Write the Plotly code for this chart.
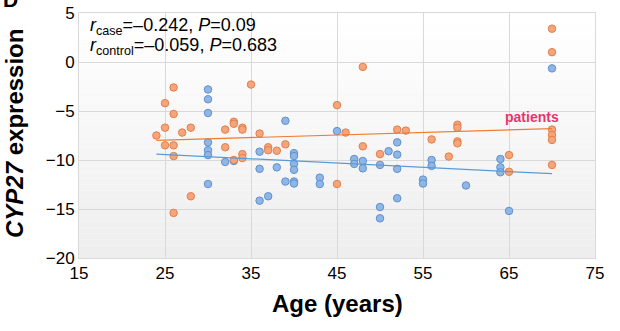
import plotly.graph_objects as go

# ---- data ----
case_age = [24, 25, 25, 25, 26, 26, 26, 26, 26, 27, 28, 28, 32, 32, 33, 33, 33,
            34, 34, 34, 34, 35, 36, 37, 37, 38, 39, 45, 45, 46, 48, 48, 50, 52,
            53, 56, 58, 59, 59, 59, 59, 65, 65, 70, 70, 70, 70, 70, 70]
case_expr = [-7.5, -4.2, -6.7, -8.5, -2.6, -5.3, -8.5, -9.6, -15.4, -7.2, -6.7, -13.7,
             -6.9, -8.7, -6.1, -6.3, -10.0, -6.7, -6.9, -9.4, -9.8, -2.3, -7.3, -8.7,
             -9.0, -9.05, -8.4, -4.4, -12.45, -7.2, -0.5, -8.6, -9.4, -6.9, -7.0,
             -7.9, -9.65, -6.4, -6.7, -8.1, -8.3, -9.5, -11.2, 3.4, 1.0, -6.9, -7.45,
             -7.95, -10.5]

ctrl_age = [30, 30, 30, 30, 30, 30, 30, 32, 33, 36, 36, 36, 37, 38, 39, 39,
            40, 40, 40, 40, 40, 40, 43, 43, 45, 47, 47, 48, 48, 50, 50, 50, 51,
            52, 52, 52, 52, 55, 55, 56, 56, 60, 64, 64, 64, 65, 70]
ctrl_expr = [-2.8, -3.8, -5.2, -8.2, -9.0, -9.5, -12.45, -10.2, -10.1, -9.15, -10.9,
             -14.15, -13.7, -10.75, -6.0, -12.2, -9.3, -9.6, -10.4, -11.0, -12.2,
             -12.4, -11.8, -12.45, -7.05, -9.9, -10.4, -10.1, -10.85, -10.5, -14.8,
             -15.95, -9.1, -8.2, -9.45, -10.9, -13.9, -12.0, -12.4, -10.0, -10.6,
             -12.6, -9.9, -10.75, -11.25, -15.2, -0.65]

trend_age = [24, 70]
trend_case = [-8.0, -6.8]
trend_ctrl = [-9.4, -11.4]

x_ticks = [15, 25, 35, 45, 55, 65, 75]
y_ticks = [5, 0, -5, -10, -15, -20]

stats_case = "<i>r</i><sub>case</sub>=\u20130.242, <i>P</i>=0.09"
stats_ctrl = "<i>r</i><sub>control</sub>=\u20130.059, <i>P</i>=0.683"

FONT = "Liberation Sans, Arial, sans-serif"

fig = go.Figure()

fig.add_trace(go.Scatter(
    x=ctrl_age, y=ctrl_expr, mode="markers", name="controls",
    marker=dict(size=7.5, color="#8fb6e4", line=dict(color="#5e91d0", width=1)),
))
fig.add_trace(go.Scatter(
    x=case_age, y=case_expr, mode="markers", name="patients",
    marker=dict(size=7.5, color="#f6a47a", line=dict(color="#e0804c", width=1)),
))
fig.add_trace(go.Scatter(
    x=trend_age, y=trend_ctrl, mode="lines",
    line=dict(color="#5b9bd5", width=1.2),
))
fig.add_trace(go.Scatter(
    x=trend_age, y=trend_case, mode="lines",
    line=dict(color="#ed7d31", width=1.2),
))

# gradient background (white at top -> light grey at bottom)
shapes = []
n = 40
for i in range(n):
    t = i / (n - 1)
    g = int(round(255 - 17 * t))
    shapes.append(dict(
        type="rect", xref="x domain", yref="y domain",
        x0=0, x1=1, y0=1 - (i + 1) / n, y1=1 - i / n,
        fillcolor=f"rgb({g},{g},{g})", line=dict(width=0), layer="below",
    ))

fig.update_layout(
    width=620, height=331,
    margin=dict(l=79, r=25, t=13, b=73, autoexpand=False),
    paper_bgcolor="white", plot_bgcolor="rgba(0,0,0,0)",
    showlegend=False,
    font=dict(family=FONT, size=17, color="black"),
    shapes=shapes,
)

fig.update_xaxes(
    range=[15, 75], tickvals=x_ticks, ticktext=[str(v) for v in x_ticks],
    showgrid=True, gridcolor="#d9d9d9", gridwidth=1,
    showline=True, linecolor="#d9d9d9", mirror=True, zeroline=False,
    ticks="", tickfont=dict(size=17), automargin=False,
)
fig.update_yaxes(
    range=[-20, 5], tickvals=y_ticks,
    showgrid=True, gridcolor="#d9d9d9", gridwidth=1,
    showline=True, linecolor="#d9d9d9", mirror=True, zeroline=False,
    ticks="", tickfont=dict(size=17), automargin=False,
)

ann = [
    dict(text=stats_case, xref="paper", yref="paper", x=0.018, y=1.0,
         xanchor="left", yanchor="top", showarrow=False, font=dict(size=18)),
    dict(text=stats_ctrl, xref="paper", yref="paper", x=0.018, y=0.918,
         xanchor="left", yanchor="top", showarrow=False, font=dict(size=18)),
    dict(text="<b>patients</b>", xref="x", yref="y", x=67.7, y=-5.6,
         xanchor="center", yanchor="middle", showarrow=False,
         font=dict(size=14, color="#e8336e")),
    dict(text="<b>Age (years)</b>", xref="paper", yref="paper", x=0.5, y=-0.184,
         xanchor="center", yanchor="middle", showarrow=False, font=dict(size=24)),
    dict(text="<b><i>CYP27</i> expression</b>", xref="paper", yref="paper",
         x=-0.126, y=0.51, xanchor="center", yanchor="middle", textangle=-90,
         showarrow=False, font=dict(size=24)),
    dict(text="<b>D</b>", xref="paper", yref="paper", x=-0.152, y=1.0,
         xanchor="left", yanchor="bottom", showarrow=False, font=dict(size=21)),
]
fig.update_layout(annotations=ann)

fig.write_html("out.html")
